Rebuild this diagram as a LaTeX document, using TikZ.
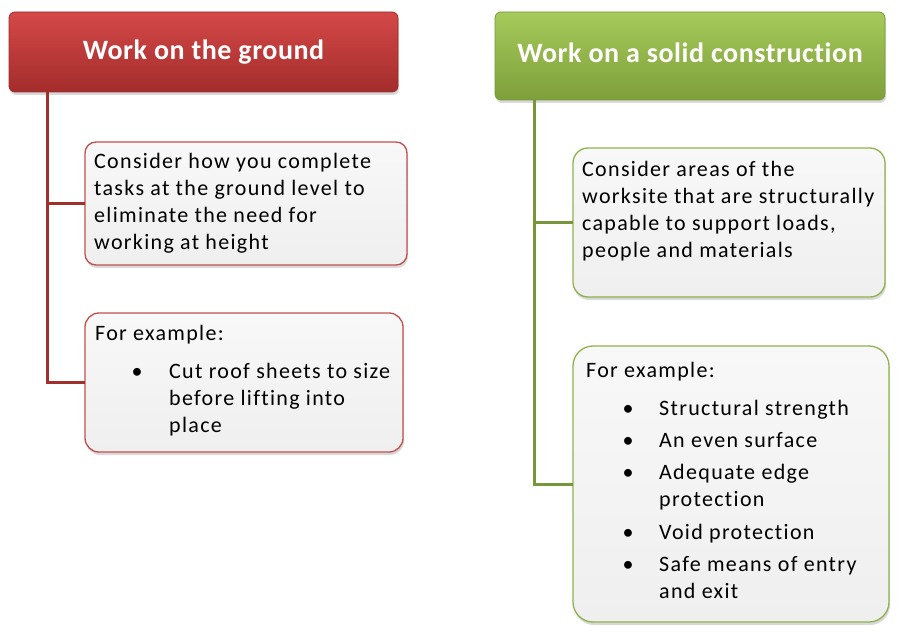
\documentclass[tikz,border=0pt]{standalone}
\usepackage{fontspec}
\setmainfont{Carlito}[Ligatures=NoCommon]
\usetikzlibrary{shadows}
\definecolor{rtop}{HTML}{D44848}
\definecolor{rbot}{HTML}{A32D2B}
\definecolor{rborder}{HTML}{9B2D2B}
\definecolor{rline}{HTML}{A0302E}
\definecolor{rchild}{HTML}{C0504D}
\definecolor{gtop}{HTML}{A6CA5B}
\definecolor{gbot}{HTML}{7E9F3A}
\definecolor{gborder}{HTML}{789A37}
\definecolor{gline}{HTML}{77963A}
\definecolor{gchild}{HTML}{8FB34B}
\definecolor{ftop}{HTML}{F8F8F8}
\definecolor{fbot}{HTML}{EFEFEF}
\tikzset{
  hdr/.style={anchor=north west, inner sep=0pt, outer sep=0pt, rounded corners=6pt,
    line width=0.8pt, drop shadow={opacity=0.3, shadow xshift=1pt, shadow yshift=-3pt}},
  redhdr/.style={hdr, top color=rtop, bottom color=rbot, draw=rborder},
  greenhdr/.style={hdr, top color=gtop, bottom color=gbot, draw=gborder},
  childbox/.style={anchor=north west, inner sep=0pt, outer sep=0pt, line width=1.3pt,
    top color=ftop, bottom color=fbot, drop shadow={opacity=0.3, shadow xshift=1pt, shadow yshift=-3pt}},
  redchild/.style={childbox, draw=rchild},
  greenchild/.style={childbox, draw=gchild},
  hdrtext/.style={anchor=base, inner sep=0pt, text=white, font=\fontsize{28}{34}\selectfont\bfseries\addfontfeature{LetterSpace=2}},
  bodytext/.style={anchor=north west, align=left, inner sep=0pt, font=\fontsize{22}{27}\selectfont\addfontfeature{LetterSpace=6}},
  bul/.style={anchor=base, inner sep=0pt, font=\fontsize{22}{27}\selectfont},
  redconn/.style={draw=rline, line width=3pt},
  greenconn/.style={draw=gline, line width=3pt},
}
\begin{document}
\begin{tikzpicture}[x=1pt, y=-1pt]
\useasboundingbox (0,0) rectangle (905,636);

% ---------- left (red) ----------
\node[redchild, rounded corners=11pt, minimum width=322pt, minimum height=123pt] (rb1) at (85,142) {};
\node[redchild, rounded corners=14pt, minimum width=318pt, minimum height=139pt] (rb2) at (85,313) {};
\node[redhdr, minimum width=389pt, minimum height=80pt] (rh) at (9,12) {};
\node[hdrtext] (rht) at (203.5,60) {Work on the ground};
\coordinate (rtop) at (47,92);
\draw[redconn] (rtop) |- (rb2.west);
\draw[redconn] (rtop |- rb1.west) -- (rb1.west);

\node[bodytext] (rt1) at (94,149.1) {\strut Consider how you complete\\tasks at the ground level to\\eliminate the need for\\working at height};
\node[bodytext] (rt2) at (95,321.1) {\strut For example:};
\node[bul] (rbul1) at (137,378) {\textbullet};
\node[bodytext] (rt3) at (169,359.1) {\strut Cut roof sheets to size\\before lifting into\\place};

% ---------- right (green) ----------
\node[greenchild, rounded corners=15pt, minimum width=312pt, minimum height=149pt] (gb1) at (573,148) {};
\node[greenchild, rounded corners=20pt, minimum width=316pt, minimum height=276pt] (gb2) at (573,346) {};
\node[greenhdr, minimum width=390pt, minimum height=88pt] (gh) at (495,12) {};
\node[hdrtext] (ght) at (690,63) {Work on a solid construction};
\coordinate (gtopc) at (534,100);
\draw[greenconn] (gtopc) |- (gb2.west);
\draw[greenconn] (gtopc |- gb1.west) -- (gb1.west);

\node[bodytext] (gt1) at (582,157.1) {\strut Consider areas of the\\worksite that are structurally\\capable to support loads,\\people and materials};
\node[bodytext] (gt2) at (586,358.1) {\strut For example:};

\node[bul] (gbul1) at (628,415) {\textbullet};
\node[bodytext] (gi1) at (659,396.1) {\strut Structural strength};
\node[bul] (gbul2) at (628,447) {\textbullet};
\node[bodytext] (gi2) at (659,428.1) {\strut An even surface};
\node[bul] (gbul3) at (628,479) {\textbullet};
\node[bodytext] (gi3) at (659,460.1) {\strut Adequate edge\\protection};
\node[bul] (gbul4) at (628,539) {\textbullet};
\node[bodytext] (gi4) at (659,520.1) {\strut Void protection};
\node[bul] (gbul5) at (628,571) {\textbullet};
\node[bodytext] (gi5) at (659,552.1) {\strut Safe means of entry\\and exit};
\end{tikzpicture}
\end{document}
